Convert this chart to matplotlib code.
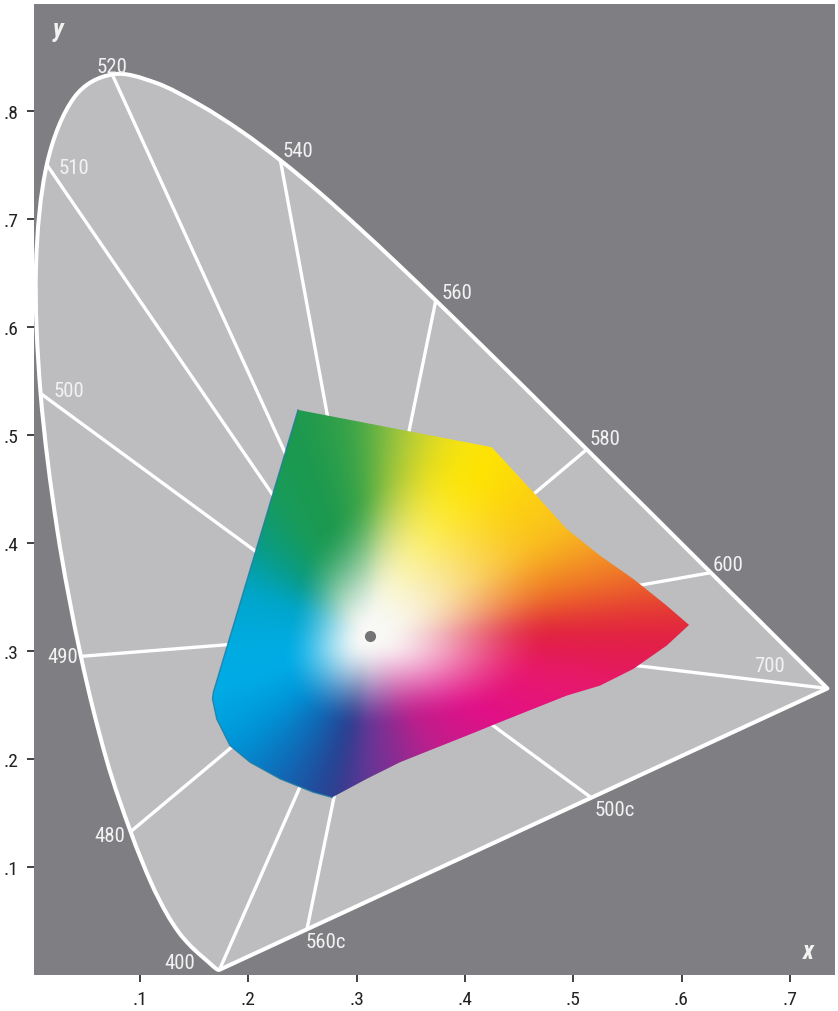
import numpy as np
import matplotlib
matplotlib.use("Agg")
import matplotlib.pyplot as plt
from matplotlib.patches import Polygon, PathPatch
from matplotlib.path import Path
from matplotlib import font_manager

# ---------------- data ----------------
wavelengths = [400, 405, 410, 415, 420, 425, 430, 435, 440, 445, 450, 455, 460, 465,
               470, 475, 480, 485, 490, 495, 500, 505, 510, 515, 520, 525, 530, 535,
               540, 545, 550, 555, 560, 565, 570, 575, 580, 585, 590, 595, 600, 605,
               610, 615, 620, 625, 630, 635, 640, 645, 650, 655, 660, 665, 670, 675,
               680, 685, 690, 695, 700]
locus_x = [0.1733, 0.1730, 0.1726, 0.1721, 0.1714, 0.1703, 0.1689, 0.1669, 0.1644, 0.1611,
           0.1566, 0.1510, 0.1440, 0.1355, 0.1241, 0.1096, 0.0913, 0.0687, 0.0454, 0.0235,
           0.0082, 0.0039, 0.0139, 0.0389, 0.0743, 0.1142, 0.1547, 0.1929, 0.2296, 0.2658,
           0.3016, 0.3373, 0.3731, 0.4087, 0.4441, 0.4788, 0.5125, 0.5448, 0.5752, 0.6029,
           0.6270, 0.6482, 0.6658, 0.6801, 0.6915, 0.7006, 0.7079, 0.7140, 0.7190, 0.7230,
           0.7260, 0.7283, 0.7300, 0.7311, 0.7320, 0.7327, 0.7334, 0.7340, 0.7344, 0.7346,
           0.7347]
locus_y = [0.0048, 0.0048, 0.0048, 0.0048, 0.0051, 0.0058, 0.0069, 0.0086, 0.0109, 0.0138,
           0.0177, 0.0227, 0.0297, 0.0399, 0.0578, 0.0868, 0.1327, 0.2007, 0.2950, 0.4127,
           0.5384, 0.6548, 0.7502, 0.8120, 0.8338, 0.8262, 0.8059, 0.7816, 0.7543, 0.7243,
           0.6923, 0.6589, 0.6245, 0.5896, 0.5547, 0.5202, 0.4866, 0.4544, 0.4242, 0.3965,
           0.3725, 0.3514, 0.3340, 0.3197, 0.3083, 0.2993, 0.2920, 0.2859, 0.2809, 0.2770,
           0.2740, 0.2717, 0.2700, 0.2689, 0.2680, 0.2673, 0.2666, 0.2660, 0.2656, 0.2654,
           0.2653]

marked_wavelengths = [400, 480, 490, 500, 510, 520, 540, 560, 580, 600, 700]
complementary_wavelengths = [500, 560]

label_texts = ["400", "480", "490", "500", "510", "520", "540", "560", "580", "600",
               "700", "500c", "560c"]
label_x = [0.1369, 0.0723, 0.0284, 0.0344, 0.0386, 0.0737, 0.2459, 0.3927, 0.5294,
           0.6429, 0.6808, 0.5386, 0.2711]
label_y = [0.0116, 0.1292, 0.2945, 0.5411, 0.7478, 0.8410, 0.7633, 0.6316, 0.4964,
           0.3797, 0.2862, 0.1529, 0.0306]

white_point = (0.3101, 0.3162)      # lines converge here
dot_point = (0.3124, 0.3137)        # grey dot

gamut_x = [0.2459, 0.4247, 0.4632, 0.4940, 0.5247, 0.5555, 0.5863, 0.6069, 0.5863,
           0.5555, 0.5247, 0.4940, 0.4632, 0.4324, 0.4017, 0.3708, 0.3401, 0.3093,
           0.2773, 0.2600, 0.2293, 0.2016, 0.1831, 0.1708, 0.1669, 0.1677]
gamut_y = [0.5232, 0.4887, 0.4470, 0.4130, 0.3883, 0.3667, 0.3420, 0.3241, 0.3050,
           0.2834, 0.2679, 0.2587, 0.2464, 0.2341, 0.2216, 0.2093, 0.1970, 0.1816,
           0.1644, 0.1692, 0.1816, 0.1970, 0.2124, 0.2371, 0.2556, 0.2618]

# colour anchors along the gamut edge (position, colour, saturation reach)
hue_x = [0.2459, 0.300, 0.345, 0.385, 0.4247, 0.494, 0.5555, 0.6069, 0.5247, 0.4324,
         0.3708, 0.3093, 0.2773, 0.2293, 0.1831, 0.1677, 0.178, 0.192, 0.205, 0.222]
hue_y = [0.5232, 0.513, 0.505, 0.497, 0.4887, 0.413, 0.3667, 0.3241, 0.2679, 0.2341,
         0.2093, 0.1816, 0.1644, 0.1816, 0.2124, 0.2618, 0.300, 0.360, 0.405, 0.455]
hue_rgb = [(28, 152, 78), (60, 165, 72), (175, 202, 60), (242, 226, 24), (255, 230, 0),
           (250, 192, 32), (238, 112, 40), (224, 32, 58), (232, 24, 110), (226, 16, 136),
           (190, 30, 140), (100, 55, 150), (42, 62, 142), (16, 105, 182), (0, 150, 216),
           (0, 172, 230), (0, 172, 228), (0, 165, 200), (10, 155, 130), (25, 155, 88)]
hue_reach = [0.60, 0.66, 0.82, 0.92, 0.92, 0.85, 0.75, 0.74, 0.78, 0.78,
             0.70, 0.64, 0.60, 0.58, 0.58, 0.58, 0.58, 0.58, 0.60, 0.60]

xticks = [0.1, 0.2, 0.3, 0.4, 0.5, 0.6, 0.7]
xtick_labels = [".1", ".2", ".3", ".4", ".5", ".6", ".7"]
yticks = [0.1, 0.2, 0.3, 0.4, 0.5, 0.6, 0.7, 0.8]
ytick_labels = [".1", ".2", ".3", ".4", ".5", ".6", ".7", ".8"]

# ---------------- style ----------------
names = {f.name for f in font_manager.fontManager.ttflist}
FONT = "DejaVu Sans"
for cand in ["Liberation Sans Narrow", "Roboto Condensed", "Open Sans Condensed",
             "Liberation Sans"]:
    if cand in names:
        FONT = cand
        break
plt.rcParams["font.family"] = [FONT, "DejaVu Sans"]

OUTER = "#7f7f83"
INNER = "#bdbdc0"
TEXT_W = "#f2f2f2"

fig = plt.figure(figsize=(8.38, 10.12), dpi=100, facecolor="white")
ax = fig.add_axes([34 / 838, 36 / 1012, 801 / 838, 971 / 1012])
ax.set_facecolor(OUTER)
ax.set_xlim(0.0021, 0.7417)
ax.set_ylim(0.0, 0.899)
for s in ax.spines.values():
    s.set_visible(False)

lx = np.array(locus_x)
ly = np.array(locus_y)
P = np.column_stack([lx, ly])

# smooth outline through the locus points (cubic Bezier, Catmull-Rom tangents)
verts = [P[0]]
codes = [Path.MOVETO]
npts = len(P)
for i in range(npts - 1):
    pm = P[i - 1] if i > 0 else P[i]
    pp = P[i + 2] if i + 2 < npts else P[i + 1]
    c1 = P[i] + (P[i + 1] - pm) / 6.0
    c2 = P[i + 1] - (pp - P[i]) / 6.0
    verts += [c1, c2, P[i + 1]]
    codes += [Path.CURVE4] * 3
verts += [P[0], P[0]]
codes += [Path.LINETO, Path.CLOSEPOLY]
horseshoe = PathPatch(Path(verts, codes), facecolor=INNER, edgecolor="white", lw=2.9,
                      joinstyle="round", zorder=1, clip_on=False)
ax.add_patch(horseshoe)

wp = np.array(white_point)
wl = list(wavelengths)

for w in marked_wavelengths:
    i = wl.index(w)
    ax.plot([lx[i], wp[0]], [ly[i], wp[1]], color="white", lw=2.4,
            solid_capstyle="butt", zorder=2)

p0 = P[0]
p1 = P[-1]
for w in complementary_wavelengths:
    i = wl.index(w)
    d = wp - P[i]
    A = np.column_stack([d, -(p1 - p0)])
    t, u = np.linalg.solve(A, p0 - wp)
    q = wp + t * d
    ax.plot([q[0], wp[0]], [q[1], wp[1]], color="white", lw=2.4,
            solid_capstyle="butt", zorder=2)

# ---------------- gamut colour area ----------------
gx = np.array(gamut_x)
gy = np.array(gamut_y)
cx, cy = dot_point
bx, by = [], []
n = len(gx)
for k in range(n):
    xa, ya = gx[k], gy[k]
    xb, yb = gx[(k + 1) % n], gy[(k + 1) % n]
    tt = np.linspace(0, 1, 60, endpoint=False)
    bx.append(xa + (xb - xa) * tt)
    by.append(ya + (yb - ya) * tt)
bx = np.concatenate(bx)
by = np.concatenate(by)
bth = np.arctan2(by - cy, bx - cx)
brr = np.hypot(bx - cx, by - cy)
o = np.argsort(bth)
bth, brr = bth[o], brr[o]

hx = np.array(hue_x)
hy = np.array(hue_y)
hc = np.array(hue_rgb, dtype=float) / 255.0
hr = np.array(hue_reach)
hth = np.arctan2(hy - cy, hx - cx)
o2 = np.argsort(hth)
hth, hc, hr = hth[o2], hc[o2], hr[o2]

# angular tables, smoothed circularly so that no wedges appear
NA = 720
ang = np.linspace(-np.pi, np.pi, NA, endpoint=False)
def circ_smooth(v, sigma_deg):
    k = np.arange(-NA // 2, NA // 2) * (360.0 / NA)
    g = np.exp(-0.5 * (k / sigma_deg) ** 2)
    g /= g.sum()
    return np.real(np.fft.ifft(np.fft.fft(v) * np.fft.fft(np.fft.ifftshift(g))))

R_ang = circ_smooth(np.interp(ang, bth, brr, period=2 * np.pi), 22)
reach_ang = circ_smooth(np.interp(ang, hth, hr, period=2 * np.pi), 10)
hue_ang = np.stack([circ_smooth(np.interp(ang, hth, hc[:, k], period=2 * np.pi), 4)
                    for k in range(3)], axis=-1)

x0, x1 = gx.min() - 0.005, gx.max() + 0.005
y0, y1 = gy.min() - 0.005, gy.max() + 0.005
NX, NY = 700, 560
X, Y = np.meshgrid(np.linspace(x0, x1, NX), np.linspace(y0, y1, NY))
TH = np.arctan2(Y - cy, X - cx)
RR = np.hypot(X - cx, Y - cy)
RB = np.interp(TH, ang, R_ang, period=2 * np.pi)
REACH = np.interp(TH, ang, reach_ang, period=2 * np.pi)
F = RR / RB
S = np.clip((F - 0.04) / (REACH - 0.04), 0, 1)
S = S * S * (3 - 2 * S)
S = np.clip(S, 0, 1) ** 0.9
hue = np.stack([np.interp(TH, ang, hue_ang[:, k], period=2 * np.pi) for k in range(3)],
               axis=-1)
white = np.array([0.975, 0.975, 0.965])
img = np.clip(white * (1 - S[..., None]) + hue * S[..., None], 0, 1)

gpoly = Polygon(np.column_stack([gx, gy]), closed=True, facecolor="none",
                edgecolor="none", zorder=3)
ax.add_patch(gpoly)
im = ax.imshow(img, extent=(x0, x1, y0, y1), origin="lower", interpolation="bilinear",
               zorder=3, aspect="auto")
im.set_clip_path(gpoly)

# darker rim on the left / lower-left edge of the colour area
rim = list(range(18, n)) + [0]
ax.plot(gx[rim], gy[rim], color="#1d7aa0", lw=1.0, alpha=0.8, zorder=4,
        solid_joinstyle="round")

ax.plot([dot_point[0]], [dot_point[1]], marker="o", ms=7, color="#747474",
        mec="#747474", zorder=5)

# ---------------- labels ----------------
for t, x, y in zip(label_texts, label_x, label_y):
    ax.text(x, y, t, color=TEXT_W, fontsize=15, ha="center", va="center", zorder=6)

ax.text(0.0243, 0.876, "y", color=TEXT_W, fontsize=18, fontweight="bold",
        fontstyle="italic", ha="center", va="center", zorder=6)
ax.text(0.717, 0.0222, "x", color=TEXT_W, fontsize=18, fontweight="bold",
        fontstyle="italic", ha="center", va="center", zorder=6)

ax.set_xticks(xticks)
ax.set_xticklabels(xtick_labels)
ax.set_yticks(yticks)
ax.set_yticklabels(ytick_labels)
ax.tick_params(axis="both", direction="out", length=5, width=1.3, color="#333333",
               labelsize=14, labelcolor="#222222", pad=6)
ax.set_aspect("auto")

fig.savefig("out.png", dpi=100, facecolor="white")
